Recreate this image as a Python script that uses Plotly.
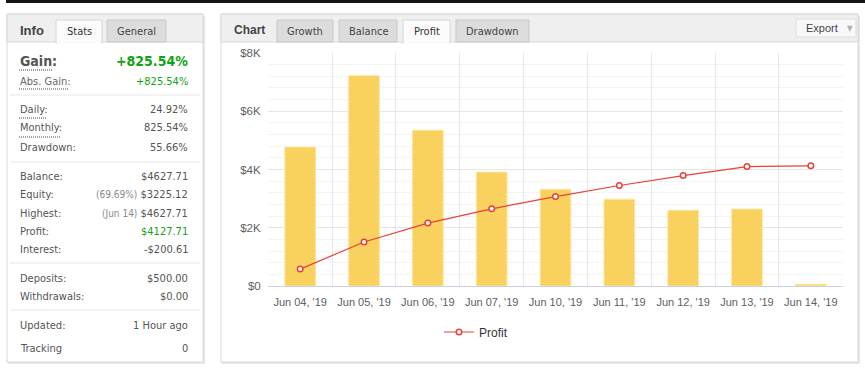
import plotly.graph_objects as go

# ---------------- data ----------------
categories = ["Jun 04, '19", "Jun 05, '19", "Jun 06, '19", "Jun 07, '19", "Jun 10, '19",
              "Jun 11, '19", "Jun 12, '19", "Jun 13, '19", "Jun 14, '19"]
bar_values = [4770, 7220, 5350, 3910, 3320, 2980, 2600, 2640, 60]
profit_values = [580, 1510, 2160, 2650, 3070, 3450, 3790, 4100, 4127.71]
y_tickvals = [0, 2000, 4000, 6000, 8000]
y_ticktext = ["$0", "$2K", "$4K", "$6K", "$8K"]

info_rows = [
    ("Daily:", "24.92%", 109),
    ("Monthly:", "825.54%", 128),
    ("Drawdown:", "55.66%", 147),
    ("Balance:", "$4627.71", 176),
    ("Equity:", "<span style='color:#8a8a8a;font-size:10px'>(69.69%)</span> $3225.12", 194),
    ("Highest:", "<span style='color:#8a8a8a;font-size:10px'>(Jun 14)</span> $4627.71", 213),
    ("Profit:", "<span style='color:#1a9e1a'>$4127.71</span>", 231),
    ("Interest:", "-$200.61", 249),
    ("Deposits:", "$500.00", 278),
    ("Withdrawals:", "$0.00", 296),
    ("Updated:", "1 Hour ago", 325),
    ("Tracking", "0", 348),
]

# ---------------- geometry helpers ----------------
WIDTH, HEIGHT = 865, 368
L, R, T, B = 268, 843, 53, 286
PW, PH = R - L, B - T


def X(p):
    return (p - L) / PW


def Y(p):
    return (B - p) / PH


FONT = "DejaVu Sans Condensed, Liberation Sans, Arial, sans-serif"
CFONT = "Liberation Sans, Arial, sans-serif"

shapes = []
annotations = []


def rect(x0, y0, x1, y1, fill, line=None, lw=1, layer="below"):
    shapes.append(dict(type="rect", xref="paper", yref="paper",
                       x0=X(x0), x1=X(x1), y0=Y(y1), y1=Y(y0),
                       fillcolor=fill, layer=layer,
                       line=dict(color=line if line else "rgba(0,0,0,0)", width=lw if line else 0)))


def hline(x0, x1, y, color, width=1, dash="solid", layer="below"):
    shapes.append(dict(type="line", xref="paper", yref="paper",
                       x0=X(x0), x1=X(x1), y0=Y(y), y1=Y(y), layer=layer,
                       line=dict(color=color, width=width, dash=dash)))


def text(x, y, s, size=11, color="#555", anchor="left", family=FONT, bold=False):
    if bold:
        s = "<b>" + s + "</b>"
    annotations.append(dict(xref="paper", yref="paper", x=X(x), y=Y(y), text=s,
                            showarrow=False, xanchor=anchor, yanchor="middle",
                            font=dict(family=family, size=size, color=color)))


# top dark strip
rect(6, 0, 865, 3, "#151515")

# ---------------- left panel ----------------
rect(8, 16, 205, 364, "#e6e6e6")                 # shadow
rect(7, 14, 203, 362, "#ffffff", "#d8d8d8")
rect(7, 14, 203, 42, "#efefef", "#d8d8d8")
rect(56, 20, 102, 43, "#fbfbfb", "#d6d6d6")      # active tab Stats
rect(57, 41, 101, 44, "#fbfbfb")
rect(107, 20, 166, 42, "#dcdcdc", "#c9c9c9")     # General tab
text(18, 30, "Info", 13, "#444", bold=True, family=CFONT)
text(79, 31, "Stats", 11, "#333", anchor="center")
text(136.5, 31, "General", 11, "#444", anchor="center")

text(18, 61, "Gain:", 14, "#555", bold=True)
text(190, 61, "+825.54%", 14, "#12a312", anchor="right", bold=True)
DOT = "1px,1px"
hline(19, 53, 70, "#444", 1, DOT)
text(18, 81, "Abs. Gain:", 11, "#666")
text(190, 81, "+825.54%", 11, "#12a312", anchor="right")
hline(19, 69, 89, "#444", 1, DOT)
hline(19, 46, 118, "#444", 1, DOT)
hline(19, 61, 137, "#444", 1, DOT)

for sep in (95, 162, 263, 310):
    hline(10, 200, sep, "#e8e8e8")

for lab, val, yy in info_rows:
    text(18, yy, lab, 11, "#555")
    text(190, yy, val, 11, "#555", anchor="right")

# ---------------- right panel ----------------
rect(222, 16, 860, 364, "#e6e6e6")               # shadow
rect(221, 14, 858, 362, "#ffffff", "#d8d8d8")
rect(221, 14, 858, 42, "#efefef", "#d8d8d8")
text(232, 30, "Chart", 12, "#444", bold=True, family=CFONT)
tabs = [("Growth", 277, 333), ("Balance", 339, 397), ("Profit", 403, 450), ("Drawdown", 456, 529)]
for name, a, b in tabs:
    if name == "Profit":
        rect(a, 20, b, 43, "#fbfbfb", "#d6d6d6")
        rect(a + 1, 41, b - 1, 44, "#fbfbfb")
        text((a + b) / 2, 31, name, 11, "#333", anchor="center")
    else:
        rect(a, 20, b, 42, "#dcdcdc", "#c9c9c9")
        text((a + b) / 2, 31, name, 11, "#444", anchor="center")

# Export button
rect(796, 19, 856, 37, "#f8f8f8", "#dedede")
text(822, 28, "Export", 11, "#444", anchor="center", family=CFONT)
text(850, 28, "▼", 8, "#b0b0b0", anchor="center", family=FONT)

# ---------------- traces ----------------
fig = go.Figure()
fig.add_trace(go.Bar(
    x=categories, y=bar_values, width=0.48, showlegend=False,
    marker=dict(color="rgba(248,204,76,0.9)", line=dict(color="#fde5a0", width=1)),
    hoverinfo="skip"))
fig.add_trace(go.Scatter(
    x=categories, y=profit_values, mode="lines+markers", name="Profit",
    line=dict(color="#e8413a", width=1.2),
    marker=dict(symbol="circle", size=5.5, color="#ffffff", line=dict(color="#e8413a", width=1.5))))

fig.update_layout(
    width=WIDTH, height=HEIGHT, autosize=False,
    margin=dict(l=L, r=WIDTH - R, t=T, b=HEIGHT - B, pad=0),
    paper_bgcolor="#ffffff", plot_bgcolor="rgba(0,0,0,0)",
    shapes=shapes, annotations=annotations,
    showlegend=True,
    legend=dict(orientation="h", x=X(439), y=Y(332), xanchor="left", yanchor="middle",
                font=dict(family=CFONT, size=12, color="#333"), bgcolor="rgba(0,0,0,0)"),
    xaxis=dict(type="category", categoryorder="array", categoryarray=categories,
               tickson="boundaries", showgrid=True, gridcolor="#e8e8e8", gridwidth=1,
               ticks="", ticklabelstandoff=6,
               showline=True, linecolor="#c6d4e6", linewidth=1,
               tickfont=dict(family=CFONT, size=11, color="#606060"), fixedrange=True),
    yaxis=dict(range=[0, 8000], tickvals=y_tickvals, ticktext=y_ticktext,
               showgrid=True, gridcolor="#e6e6e6", gridwidth=1, zeroline=False,
               minor=dict(tickvals=list(range(400, 8000, 400)), showgrid=True, gridcolor="#f4f4f4"),
               ticks="outside", ticklen=4, tickcolor="rgba(0,0,0,0)",
               tickfont=dict(family=CFONT, size=11.5, color="#606060"), fixedrange=True),
    bargap=0.5,
)

fig.write_html("out.html", config={"displayModeBar": False},
               post_script="document.body.style.margin='0';document.body.style.overflow='hidden';")
